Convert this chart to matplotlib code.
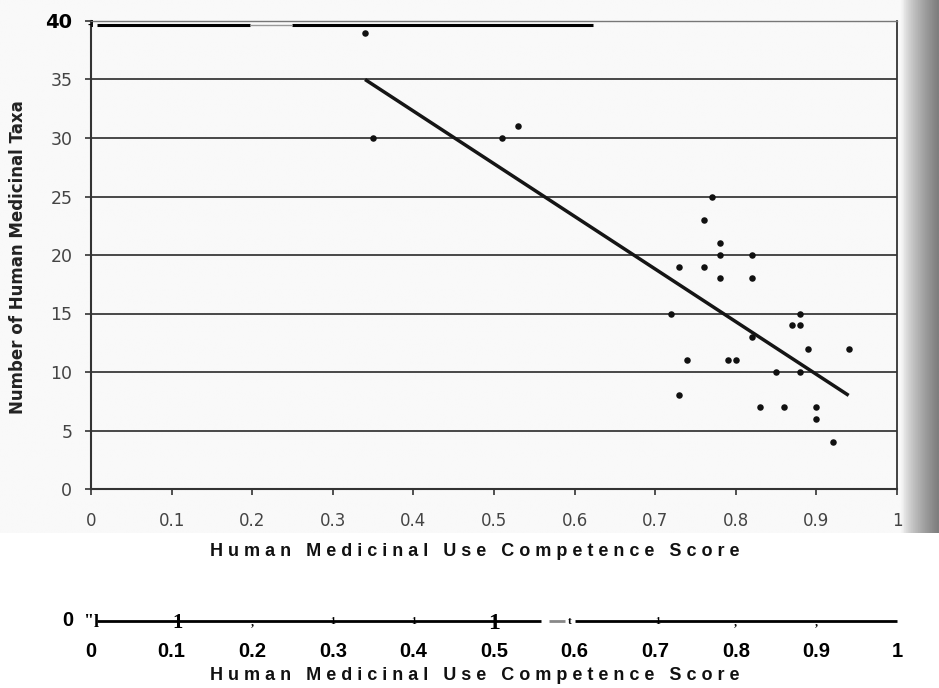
import numpy as np
import matplotlib
matplotlib.use("Agg")
import matplotlib.pyplot as plt
from matplotlib.colors import LinearSegmentedColormap

# --- data -------------------------------------------------------------
competence = [0.34, 0.35, 0.51, 0.53, 0.77, 0.76, 0.78,
              0.78, 0.82, 0.73, 0.76, 0.78, 0.82,
              0.72, 0.88, 0.87, 0.88, 0.82, 0.89, 0.94,
              0.74, 0.79, 0.80, 0.85, 0.88, 0.73,
              0.83, 0.86, 0.90, 0.90, 0.92]
taxa = [39, 30, 30, 31, 25, 23, 21,
        20, 20, 19, 19, 18, 18,
        15, 15, 14, 14, 13, 12, 12,
        11, 11, 11, 10, 10, 8,
        7, 7, 7, 6, 4]
trend_x = [0.34, 0.94]
trend_y = [35, 8]

x_ticks = [0, 0.1, 0.2, 0.3, 0.4, 0.5, 0.6, 0.7, 0.8, 0.9, 1]
x_tick_labels = ["0", "0.1", "0.2", "0.3", "0.4", "0.5", "0.6", "0.7", "0.8", "0.9", "1"]
y_ticks = [0, 5, 10, 15, 20, 25, 30, 35, 40]
y_tick_labels = ["0", "5", "10", "15", "20", "25", "30", "35", "40"]

x_label = "Human Medicinal Use Competence Score"
y_label = "Number of Human Medicinal Taxa"

W, H = 939, 688
fig = plt.figure(figsize=(W / 100, H / 100), dpi=100)
fig.patch.set_facecolor("white")


def fx(px):
    return px / W


def fy(py):
    return 1 - py / H


# --- paper background with darkening at the binding edge --------------
bg = fig.add_axes([0, fy(533), 1, 533 / H], zorder=-10)
cols = np.linspace(0, W, 400)
shade = np.where(cols < 903, 0.0, ((cols - 903) / (W - 903)) ** 0.7)
img = np.tile(shade, (20, 1))
cmap = LinearSegmentedColormap.from_list("paper", ["#f9f9f9", "#7e7e7e"])
bg.imshow(img, aspect="auto", cmap=cmap, vmin=0, vmax=1, extent=[0, 1, 0, 1])
bg.axis("off")

# --- main scatter panel -----------------------------------------------
ax = fig.add_axes([fx(91), fy(489), fx(897 - 91), (489 - 21) / H])
ax.set_facecolor("none")
ax.set_xlim(0, 1)
ax.set_ylim(0, 40)

for yv in y_ticks[1:-1]:
    ax.axhline(yv, color="#3a3a3a", lw=1.3, zorder=1)

ax.scatter(competence, taxa, s=22, color="#111111", zorder=3, linewidths=0)
ax.plot(trend_x, trend_y, color="#151515", lw=2.5, zorder=2,
        solid_capstyle="butt")

ax.set_xticks(x_ticks)
ax.set_xticklabels(x_tick_labels)
ax.set_yticks(y_ticks)
ax.set_yticklabels(y_tick_labels)
ax.tick_params(axis="x", direction="out", length=4.5, width=1.2,
               color="#333333", pad=12, labelsize=12, labelcolor="#444444")
ax.tick_params(axis="y", direction="out", length=4.5, width=1.2,
               color="#333333", pad=9, labelsize=12.5, labelcolor="#444444")
top_label = ax.get_yticklabels()[-1]
top_label.set_fontweight("bold")
top_label.set_fontsize(14)
top_label.set_color("black")

for side in ("left", "bottom"):
    ax.spines[side].set_color("#333333")
    ax.spines[side].set_linewidth(1.5)
ax.spines["right"].set_color("#333333")
ax.spines["right"].set_linewidth(1.3)
ax.spines["top"].set_color("#777777")
ax.spines["top"].set_linewidth(1.0)

# heavy rule just under the top frame
ax.plot([0.007, 0.197], [39.65, 39.65], color="black", lw=2.2, zorder=4,
        solid_capstyle="butt", clip_on=False)
ax.plot([0.249, 0.623], [39.65, 39.65], color="black", lw=2.2, zorder=4,
        solid_capstyle="butt", clip_on=False)
ax.plot([0.197, 0.249], [39.65, 39.65], color="#999999", lw=1.0, zorder=4,
        solid_capstyle="butt", clip_on=False)
ax.text(0.0, 39.7, "-i", fontsize=6, color="black", ha="center",
        va="center", fontweight="bold")

fig.text(fx(18), fy(257), y_label, rotation=90, ha="center", va="center",
         fontsize=12, fontweight="bold", color="#222222",
         family="DejaVu Sans")


def spaced(s):
    return "   ".join(" ".join(w) for w in s.split())


fig.text(fx(475), fy(551), spaced(x_label), ha="center", va="center",
         fontsize=13, fontweight="bold", family="Liberation Sans",
         color="#111111")

# --- lower scale strip -------------------------------------------------
ax2 = fig.add_axes([fx(91), fy(621), fx(897 - 91), 0.001])
ax2.set_xlim(0, 1)
ax2.set_ylim(-1, 1)
for s in ax2.spines.values():
    s.set_visible(False)
ax2.set_yticks([])
ax2.set_xticks(x_ticks)
ax2.set_xticklabels(x_tick_labels)
ax2.tick_params(axis="x", length=0, pad=15, labelsize=14.5)
for lbl in ax2.get_xticklabels():
    lbl.set_fontweight("bold")
    lbl.set_family("Liberation Sans")
ax2.set_facecolor("none")

rule_segments = [(0.008, 0.558, "black"), (0.568, 0.588, "#888888"),
                 (0.600, 1.0, "black")]
for x0, x1, c in rule_segments:
    ax2.plot([x0, x1], [0, 0], color=c, lw=2.0, solid_capstyle="butt",
             clip_on=False)

marks_x = [0.0, 0.108, 0.20, 0.30, 0.40, 0.50, 0.594, 0.703, 0.80, 0.90]
marks_txt = ['"l', "1", ",", "1", "1", "1", "t", "1", ",", ","]
marks_size = [13, 15, 9, 7, 7, 17, 8, 7, 9, 9]
for mx, mt, ms in zip(marks_x, marks_txt, marks_size):
    ax2.text(mx, 0, mt, fontsize=ms, family="Liberation Serif",
             fontweight="bold", ha="center", va="center_baseline",
             color="black", clip_on=False)

fig.text(fx(68), fy(621), "0", ha="center", va="center", fontsize=14.5,
         fontweight="bold", family="Liberation Sans")

fig.text(fx(475), fy(675), spaced(x_label), ha="center", va="center",
         fontsize=13, fontweight="bold", family="Liberation Sans",
         color="#111111")

fig.savefig("out.png", dpi=100)
